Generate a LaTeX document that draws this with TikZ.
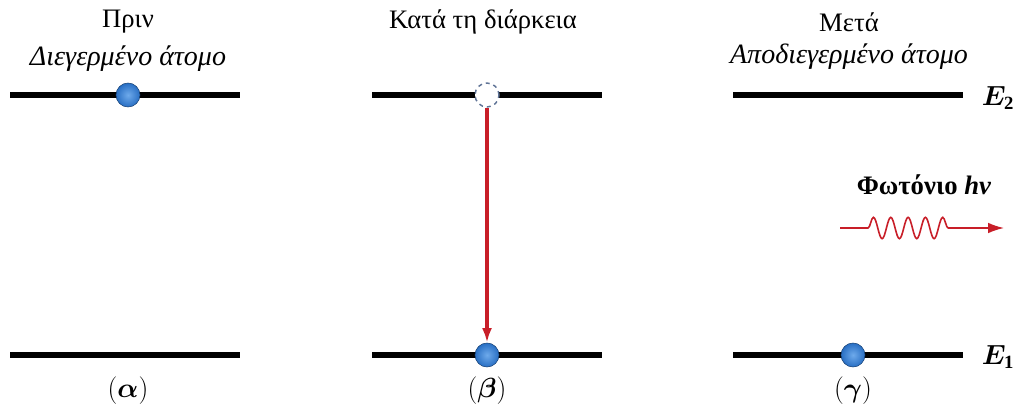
\documentclass[tikz,border=0pt]{standalone}
\usepackage{fontspec}
\setmainfont{Liberation Serif}
\usepackage{amsmath,bm}
\usetikzlibrary{arrows.meta, positioning, decorations.pathmorphing}

\definecolor{photonred}{RGB}{200,30,40}
\definecolor{elblue}{RGB}{40,110,195}
\definecolor{elblueinner}{RGB}{110,170,235}
\definecolor{holegray}{RGB}{95,115,150}

\begin{document}
\begin{tikzpicture}[
  x=0.75pt, y=-0.75pt,
  node distance=2pt and 10pt,
  level/.style={line width=4.5pt, black},
  electron/.style={circle, minimum size=18pt, inner sep=0pt, draw=elblue!60!black,
                   shading=radial, inner color=elblueinner, outer color=elblue},
  hole/.style={circle, minimum size=18pt, inner sep=0pt, draw=holegray, fill=white,
               dashed, line width=1.1pt},
  title/.style={font=\fontsize{20}{22}\selectfont},
  subtitle/.style={font=\fontsize{21}{23}\selectfont\itshape},
  tag/.style={font=\fontsize{22}{24}\selectfont},
  energy/.style={font=\fontsize{20}{22}\selectfont},
  arr/.style={-{Latex[length=11pt, width=7.5pt]}, line width=2.3pt, photonred},
  photon/.style={-{Latex[length=12pt, width=8pt]}, line width=1.2pt, photonred}
]
\useasboundingbox (0,0) rectangle (1017,407);

% energy levels E2 (top) and E1 (bottom)
\foreach \n/\x in {a/10, b/372, c/733} {
  \coordinate (\n2l) at (\x,95);
  \coordinate (\n2r) at (\x+230,95);
  \coordinate (\n1l) at (\x,355);
  \coordinate (\n1r) at (\x+230,355);
  \draw[level] (\n2l) -- (\n2r);
  \draw[level] (\n1l) -- (\n1r);
}

% electrons
\node[electron] (ea) at (128,95) {};
\node[hole]     (hb) at (487,95) {};
\node[electron] (eb) at (487,355) {};
\node[electron] (ec) at (853,355) {};

% transition
\draw[arr] (hb) -- (eb);

% titles
\node[title] (ta) at (128,22) {Πριν};
\node[subtitle, below=of ta] (sa) {Διεγερμένο άτομο};
\node[title] (tb) at (483,22) {Κατά τη διάρκεια};
\node[title] (tc) at (849,22) {Μετά};
\node[subtitle, below=of tc] (sc) {Αποδιεγερμένο άτομο};

% level labels
\node[energy] (E2) at (998,98) {$\boldsymbol{E}_{\mathbf{2}}$};
\node[energy] (E1) at (998,357) {$\boldsymbol{E}_{\mathbf{1}}$};

% emitted photon
\node[title] (ph) at (924,185) {\textbf{Φωτόνιο \textit{hν}}};
\coordinate (p0) at (840,228);
\coordinate (p1) at (868,228);
\coordinate (p2) at (955,228);
\coordinate (p3) at (1004,228);
\draw[photon] (p0) -- (p1)
  decorate[decoration={snake, segment length=13pt, amplitude=8pt}] {-- (p2)}
  -- (p3);

% panel tags
\node[tag] (la) at (128,391) {$(\boldsymbol{\alpha})$};
\node[tag] (lb) at (487,391) {$(\boldsymbol{\beta})$};
\node[tag] (lc) at (853,391) {$(\boldsymbol{\gamma})$};

\end{tikzpicture}
\end{document}
